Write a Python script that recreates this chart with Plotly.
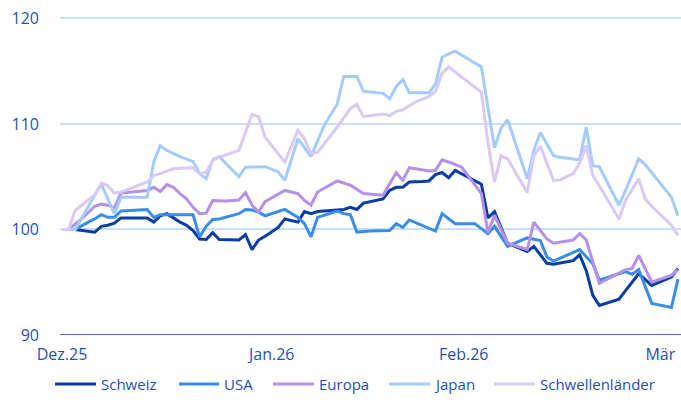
import plotly.graph_objects as go

# x = trading-day index from start (Dez.25)
tick_pos = [0, 32, 61.3, 91.3]
tick_labels = ["Dez.25", "Jan.26", "Feb.26", "Mär"]

schweiz_x = [0, 2, 5, 6, 7, 8, 9, 13, 14, 15, 16, 18, 19, 20, 21, 22, 23, 24, 27, 28, 29, 30, 31, 33, 34, 36, 37, 38, 39, 42, 43, 44, 45, 46, 49, 50, 51, 52, 53, 55, 56, 57, 58, 59, 60, 64, 65, 66, 68, 71, 72, 74, 75, 78, 79, 80, 81, 82, 85, 86, 88, 90, 93, 94]
schweiz_y = [100.0, 100.0, 99.75, 100.3, 100.4, 100.6, 101.1, 101.1, 100.7, 101.3, 101.5, 100.7, 100.4, 99.9, 99.1, 99.05, 99.7, 99.05, 99.0, 99.5, 98.1, 99.0, 99.35, 100.2, 101.0, 100.7, 101.7, 101.5, 101.7, 101.9, 101.9, 102.1, 101.9, 102.5, 102.9, 103.7, 104.0, 104.0, 104.5, 104.55, 104.6, 105.2, 105.4, 104.9, 105.6, 104.3, 101.1, 101.7, 98.7, 97.9, 98.4, 96.8, 96.7, 97.05, 97.6, 96.1, 93.75, 92.8, 93.4, 94.2, 95.8, 94.7, 95.5, 96.3]

usa_x = [0, 2, 4, 5, 6, 7, 8, 9, 13, 14, 15, 20, 21, 22, 23, 24, 27, 28, 29, 30, 31, 34, 36, 37, 38, 39, 42, 43, 44, 45, 47, 50, 51, 52, 53, 57, 58, 60, 63, 65, 66, 68, 71, 73, 74, 75, 79, 81, 82, 86, 87, 88, 90, 93, 94]
usa_y = [100.0, 100.0, 100.7, 101.0, 101.4, 101.15, 101.15, 101.75, 101.9, 101.15, 101.4, 101.4, 99.3, 100.3, 100.95, 101.0, 101.5, 101.9, 101.85, 101.65, 101.3, 101.9, 101.15, 100.55, 99.3, 101.15, 101.75, 101.5, 101.4, 99.75, 99.85, 99.9, 100.55, 100.2, 100.9, 99.85, 101.5, 100.55, 100.55, 99.6, 100.3, 98.4, 99.2, 98.95, 97.4, 97.0, 98.1, 96.75, 95.2, 96.0, 95.75, 96.2, 93.0, 92.6, 95.3]

europa_x = [0, 1, 3, 4, 5, 6, 7, 8, 9, 13, 14, 15, 16, 17, 18, 19, 20, 21, 22, 23, 25, 27, 28, 29, 30, 31, 34, 36, 37, 38, 39, 42, 44, 46, 49, 51, 52, 53, 56, 57, 58, 59, 61, 64, 65, 66, 68, 71, 72, 74, 75, 78, 79, 80, 82, 86, 87, 88, 90, 93, 94]
europa_y = [100.0, 100.0, 101.0, 101.65, 102.2, 102.4, 102.3, 102.05, 103.45, 103.7, 104.0, 103.6, 104.25, 104.0, 103.4, 102.9, 102.1, 101.5, 101.55, 102.75, 102.7, 102.8, 103.5, 102.3, 101.65, 102.65, 103.7, 103.4, 102.75, 102.3, 103.55, 104.6, 104.2, 103.4, 103.25, 105.4, 104.65, 105.85, 105.55, 105.6, 106.6, 106.4, 105.9, 103.4, 99.7, 101.35, 98.7, 98.1, 100.7, 99.1, 98.7, 99.0, 99.6, 99.0, 94.9, 96.2, 96.3, 97.55, 95.0, 95.65, 96.2]

japan_x = [0, 2, 6, 8, 9, 13, 14, 15, 16, 18, 20, 21, 22, 23, 24, 27, 28, 31, 33, 34, 36, 38, 40, 42, 43, 45, 46, 49, 50, 51, 52, 53, 56, 57, 58, 60, 64, 66, 67, 68, 71, 72, 73, 75, 76, 79, 80, 81, 82, 85, 86, 88, 89, 93, 94]
japan_y = [100.0, 100.0, 104.3, 101.5, 103.05, 103.05, 106.4, 107.95, 107.5, 106.9, 106.45, 105.3, 104.8, 106.6, 106.9, 105.0, 105.9, 105.95, 105.45, 104.65, 108.6, 106.9, 109.85, 111.9, 114.5, 114.5, 113.1, 112.9, 112.4, 113.55, 114.2, 112.95, 112.95, 113.8, 116.35, 116.9, 115.4, 107.75, 109.6, 110.4, 104.8, 107.5, 109.2, 107.0, 106.85, 106.6, 109.7, 106.05, 105.95, 102.3, 103.7, 106.7, 106.15, 103.05, 101.3]

schwellen_x = [0, 1, 2, 4, 5, 6, 7, 8, 9, 13, 14, 15, 17, 18, 20, 21, 22, 23, 24, 27, 28, 29, 30, 31, 34, 36, 37, 38, 39, 42, 44, 45, 46, 49, 50, 51, 52, 54, 56, 57, 58, 59, 64, 65, 66, 67, 68, 71, 72, 73, 75, 76, 78, 79, 80, 81, 82, 85, 86, 88, 89, 90, 93, 94]
schwellen_y = [100.0, 100.0, 101.8, 102.75, 103.3, 104.4, 104.15, 103.45, 103.55, 104.5, 105.1, 105.3, 105.75, 105.8, 105.85, 105.3, 105.4, 106.55, 106.85, 107.5, 109.3, 110.9, 110.7, 108.75, 106.4, 109.4, 108.6, 107.2, 107.3, 109.7, 111.45, 111.85, 110.7, 110.95, 110.8, 111.2, 111.35, 112.1, 112.6, 113.1, 114.8, 115.4, 113.0, 108.25, 104.5, 107.0, 106.7, 103.5, 107.0, 107.9, 104.65, 104.7, 105.3, 106.3, 107.95, 105.1, 104.15, 101.0, 102.75, 104.8, 102.9, 102.2, 100.4, 99.4]

series = [
    ("Schweiz", schweiz_x, schweiz_y, "#0A3CA6"),
    ("USA", usa_x, usa_y, "#3A8CEB"),
    ("Europa", europa_x, europa_y, "#B590E8"),
    ("Japan", japan_x, japan_y, "#A3CCFD"),
    ("Schwellenländer", schwellen_x, schwellen_y, "#D9C9F5"),
]

y_ticks = [90, 100, 110, 120]
text_color = "#1F50B5"
font_family = "Open Sans, Noto Sans, sans-serif"

W, H = 681, 407
ML, MR, MT, MB = 60, 0, 2, 72
plot_w = W - ML - MR
plot_h = H - MT - MB

fig = go.Figure()
for name, xs, ys, color in series:
    fig.add_trace(go.Scatter(x=xs, y=ys, mode="lines", name=name, showlegend=False,
                             line=dict(color=color, width=3)))

# custom legend (line sample + label), laid out in pixels
legend_y_px = 384
legend_items_px = [(55, 96, 99), (179, 219, 222), (273, 314, 317), (389, 430, 432), (494, 535, 538)]
ly = -(legend_y_px - (H - MB)) / plot_h
for (name, xs, ys, color), (lx0, lx1, tx) in zip(series, legend_items_px):
    fig.add_shape(type="line", xref="paper", yref="paper",
                  x0=(lx0 - ML) / plot_w, x1=(lx1 - ML) / plot_w, y0=ly, y1=ly,
                  line=dict(color=color, width=3))
    fig.add_annotation(xref="paper", yref="paper", x=(tx - ML) / plot_w, y=ly,
                       text=name, showarrow=False, xanchor="left", yanchor="middle",
                       xshift=0, font=dict(size=15, color=text_color, family=font_family))

fig.update_layout(
    width=W, height=H,
    margin=dict(l=ML, r=MR, t=MT, b=MB, autoexpand=False),
    paper_bgcolor="white", plot_bgcolor="white",
    font=dict(family=font_family, color=text_color, size=16),
    showlegend=False,
    xaxis=dict(range=[-0.305, 94.46], tickvals=tick_pos, ticktext=tick_labels,
               showgrid=False, zeroline=False, showline=False, ticks="", automargin=False,
               ticklabelstandoff=8, tickfont=dict(size=16, color=text_color)),
    yaxis=dict(range=[90, 121.56], tickvals=y_ticks, showgrid=True, automargin=False,
               gridcolor="#C9DFFF", gridwidth=1.5, zeroline=False, showline=False,
               ticks="", ticklabelstandoff=20, tickfont=dict(size=16, color=text_color)),
)
# dark baseline at 90
fig.add_shape(type="line", xref="paper", yref="y", x0=0, x1=1, y0=90, y1=90,
              line=dict(color="#123FA0", width=1.5), layer="above")

fig.write_html("out.html", config={"displayModeBar": False},
               post_script="document.body.style.margin='0';")
